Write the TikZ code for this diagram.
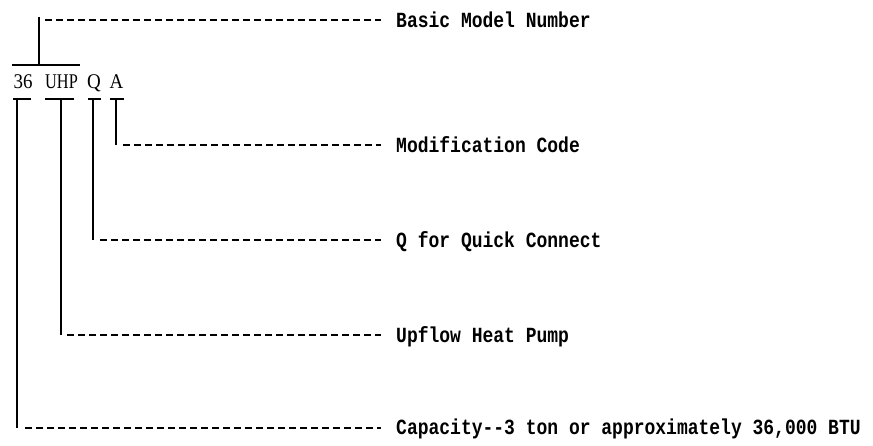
\documentclass[tikz,border=0pt]{standalone}
\usepackage{fontspec}
\usepackage{graphicx}
\newfontfamily\labelfont{Liberation Mono}
\newfontfamily\codefont{Liberation Serif}
\newcommand{\tallstr}[1]{\scalebox{1}[1.2]{#1}}
\begin{document}
\begin{tikzpicture}[x=1pt,y=1pt,
  solidline/.style={line width=1.6pt},
  bar/.style={line width=2.2pt},
  dashline/.style={line width=1.6pt, dash pattern=on 7pt off 4pt},
  lbl/.style={anchor=base west, inner sep=0pt, font=\labelfont\bfseries\fontsize{18}{20}\selectfont},
  code/.style={anchor=base, inner sep=0pt, font=\codefont\fontsize{19}{20}\selectfont}]
\useasboundingbox (0,0) rectangle (873,-445);
% code letters
\node[code] (n36) at (23,-88) {\scalebox{1}[1.1]{36}};
\node[code] (nUHP) at (61.5,-88) {\scalebox{0.86}[1.1]{UHP}};
\node[code] (nQ) at (94,-88) {\scalebox{1}[1.1]{Q}};
\node[code] (nA) at (116.5,-88) {\scalebox{1}[1.1]{A}};
% labels
\node[lbl] (lB) at (396,-27) {\tallstr{Basic Model Number}};
\node[lbl] (lA) at (396,-152) {\tallstr{Modification Code}};
\node[lbl] (lQ) at (396,-247) {\tallstr{Q for Quick Connect}};
\node[lbl] (lU) at (396,-342) {\tallstr{Upflow Heat Pump}};
\node[lbl] (lC) at (396,-434) {\tallstr{Capacity--3 ton or approximately 36,000 BTU}};
% overline and underlines
\coordinate (ovL) at (12,-65);
\coordinate (ovR) at (80,-65);
\draw[bar] (ovL) -- (ovR);
\coordinate (u36L) at (13,-99); \coordinate (u36R) at (31,-99);
\coordinate (uUL) at (45,-99);  \coordinate (uUR) at (74,-99);
\coordinate (uQL) at (88,-99);  \coordinate (uQR) at (101,-99);
\coordinate (uAL) at (110,-99); \coordinate (uAR) at (124,-99);
\draw[bar] (u36L) -- (u36R);
\draw[bar] (uUL) -- (uUR);
\draw[bar] (uQL) -- (uQR);
\draw[bar] (uAL) -- (uAR);
% Basic model number
\coordinate (bTop) at (39,-17);
\coordinate (bBot) at (39,-65);
\coordinate (bDash) at (45,-20);
\coordinate (bEnd) at (381,-20);
\draw[solidline] (bBot) -- (bTop);
\draw[dashline] (bDash) -- (bEnd);
% Modification code
\coordinate (aTop) at (116,-99);
\coordinate (aBot) at (116,-145);
\coordinate (aDash) at (123,-145);
\coordinate (aEnd) at (381,-145);
\draw[solidline] (aTop) -- (aBot);
\draw[dashline] (aDash) -- (aEnd);
% Q
\coordinate (qTop) at (93,-99);
\coordinate (qBot) at (93,-240);
\coordinate (qDash) at (100,-240);
\coordinate (qEnd) at (381,-240);
\draw[solidline] (qTop) -- (qBot);
\draw[dashline] (qDash) -- (qEnd);
% UHP
\coordinate (uTop) at (61,-99);
\coordinate (uBot) at (61,-335);
\coordinate (uDash) at (67,-335);
\coordinate (uEnd) at (381,-335);
\draw[solidline] (uTop) -- (uBot);
\draw[dashline] (uDash) -- (uEnd);
% 36
\coordinate (cTop) at (17,-99);
\coordinate (cBot) at (17,-428);
\coordinate (cDash) at (25,-428);
\coordinate (cEnd) at (381,-428);
\draw[solidline] (cTop) -- (cBot);
\draw[dashline] (cDash) -- (cEnd);
\end{tikzpicture}
\end{document}
